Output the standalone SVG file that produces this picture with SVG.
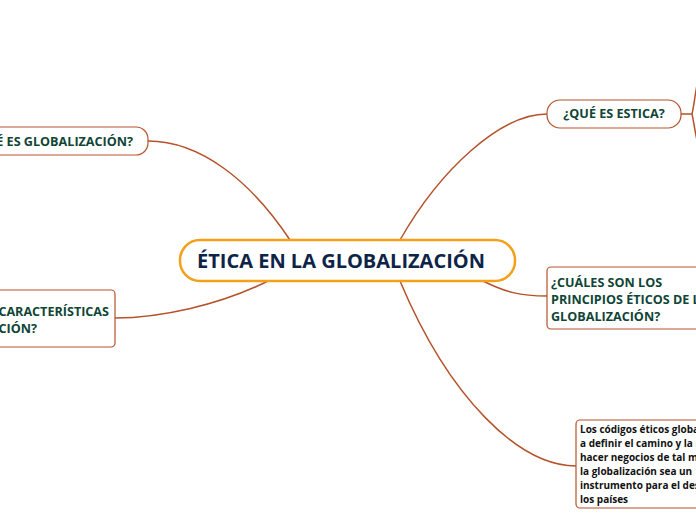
<svg xmlns="http://www.w3.org/2000/svg" width="696" height="520" viewBox="0 0 696 520">
<style>
.c{fill:none;stroke:#b5522a;stroke-width:1.5}
.b{fill:#fff;stroke:#b5522a;stroke-width:1.2}
.t{font-family:"Open Sans",sans-serif;font-weight:bold;fill:#0f4536;font-size:12.6px}
.s{font-family:"Open Sans",sans-serif;font-weight:bold;fill:#111;font-size:10px}
</style>
<rect width="696" height="520" fill="#fff"/>
<g id="connectors">
<path class="c" d="M290,240 C250,180 200,141 148,141"/>
<path class="c" d="M268,281 C220,305 160,318 115,318"/>
<path class="c" d="M400,240 C440,170 500,114 547,114"/>
<path class="c" d="M483,281 C505,292 520,296 547,296"/>
<path class="c" d="M400,281 C450,400 520,466 576,466"/>
<path class="c" d="M681,114 L692,114 C694,105 695,95 697,85 M692,114 C694,123 695,132 697,140"/>
</g>
<g id="central">
<rect x="180" y="240" width="335" height="41" rx="20" fill="#fff" stroke="#f5a01a" stroke-width="2.5"/>
<text x="341" y="268" text-anchor="middle" font-family="Open Sans,sans-serif" font-weight="bold" font-size="20" fill="#0d2447">ÉTICA EN LA GLOBALIZACIÓN</text>
</g>
<g id="n1">
<rect class="b" x="-20" y="127" width="168" height="28" rx="12"/>
<text class="t" x="133" y="146" text-anchor="end">¿QUÉ ES GLOBALIZACIÓN?</text>
</g>
<g id="n2">
<rect class="b" x="-10" y="290" width="125" height="57" rx="4"/>
<text class="t" x="109" y="316" text-anchor="end">¿CUÁLES SON LAS CARACTERÍSTICAS</text>
<text class="t" x="37" y="333" text-anchor="end">DE LA GLOBALIZACIÓN?</text>
</g>
<g id="n3">
<rect class="b" x="547" y="100" width="134" height="28" rx="13"/>
<text class="t" x="614" y="118" text-anchor="middle">¿QUÉ ES ESTICA?</text>
</g>
<g id="n4">
<rect class="b" x="547" y="267" width="160" height="62" rx="4"/>
<text class="t" x="551" y="287">¿CUÁLES SON LOS</text>
<text class="t" x="551" y="304">PRINCIPIOS ÉTICOS DE LA</text>
<text class="t" x="551" y="321">GLOBALIZACIÓN?</text>
</g>
<g id="n5">
<rect class="b" x="576" y="420" width="130" height="88" rx="4"/>
<text class="s" x="580" y="433">Los códigos éticos globales ayudan</text>
<text class="s" x="580" y="447">a definir el camino y la manera de</text>
<text class="s" x="580" y="461">hacer negocios de tal manera que</text>
<text class="s" x="580" y="475">la globalización sea un</text>
<text class="s" x="580" y="489">instrumento para el desarrollo de</text>
<text class="s" x="580" y="503">los países</text>
</g>
</svg>
